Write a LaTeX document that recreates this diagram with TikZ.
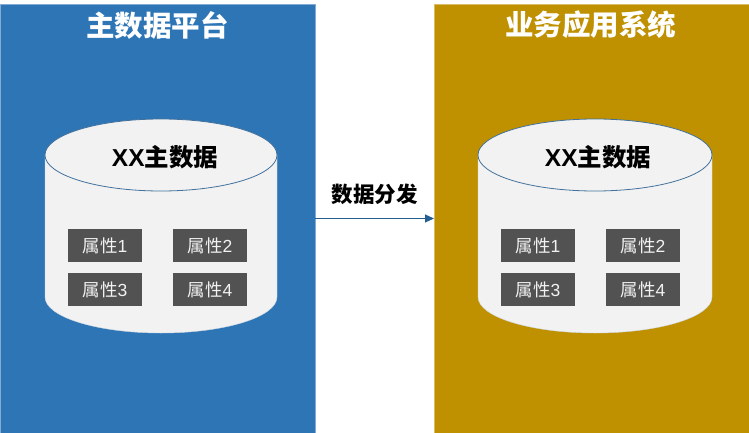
\documentclass[tikz,border=0pt]{standalone}
\usepackage{fontspec}
\usepackage{xcolor}
\setmainfont{Liberation Sans}
\newfontfamily\cjk{Noto Sans CJK SC}
\usetikzlibrary{arrows.meta}
\definecolor{platformblue}{HTML}{2E75B6}
\definecolor{systemgold}{HTML}{BF9000}
\definecolor{cylfill}{HTML}{F2F2F2}
\definecolor{cylline}{HTML}{41719C}
\definecolor{attrgray}{HTML}{525252}
\definecolor{arrowblue}{HTML}{255E91}
\tikzset{
panel/.style={fill=#1, draw=#1!60!white, line width=.5pt, minimum width=315, minimum height=429, inner sep=0, outer sep=0},
paneltitle/.style={text=white, font=\cjk\bfseries\fontsize{28.5}{28.5}\selectfont, inner sep=0},
dbtitle/.style={text=black, font=\bfseries\fontsize{24.5}{24.5}\selectfont, inner sep=0},
attr/.style={fill=attrgray, text=cylfill, minimum width=74, minimum height=33, inner sep=0, font=\fontsize{17.5}{17.5}\selectfont},
}
\begin{document}
\begin{tikzpicture}[x=1pt, y=-1pt]
\useasboundingbox (0,0) rectangle (749,433);
\node[panel=platformblue] (platform) at (157.5,218.5) {};
\node[panel=systemgold] (system) at (591.5,218.5) {};
\node[paneltitle] (platformtitle) at (157.5,25) {主数据平台};
\node[paneltitle] (systemtitle) at (590.5,25) {业务应用系统};
\foreach \x/\n/\r/\dx in {161/a/116/0, 595/b/117/-1} {
\fill[cylfill] (\x-\r,155) -- (\x-\r,297) arc[start angle=180, end angle=0, x radius=\r, y radius=36] -- (\x+\r,155) -- cycle;
\draw[cylfill!80!cylline, line width=.4pt] (\x-\r,155) -- (\x-\r,297) arc[start angle=180, end angle=0, x radius=\r, y radius=36] -- (\x+\r,155);
\draw[cylline, fill=cylfill, line width=.8pt] (\x,155) ellipse[x radius=\r, y radius=36];
\node[dbtitle] (title\n) at (\x+4+\dx,157) {XX{\cjk 主数据}};
\node[attr] (attr\n1) at (\x-56+\dx,245.5) {{\cjk 属性}1};
\node[attr] (attr\n2) at (\x+49+\dx,245.5) {{\cjk 属性}2};
\node[attr] (attr\n3) at (\x-56+\dx,289.5) {{\cjk 属性}3};
\node[attr] (attr\n4) at (\x+49+\dx,289.5) {{\cjk 属性}4};
}
\draw[arrowblue, line width=1pt, -{Triangle[length=9pt,width=8pt]}] (platform.east) -- (system.west) node[midway, above=13pt, text=black, inner sep=0, font=\cjk\bfseries\fontsize{21.5}{21.5}\selectfont] (flowlabel) {数据分发};
\end{tikzpicture}
\end{document}
